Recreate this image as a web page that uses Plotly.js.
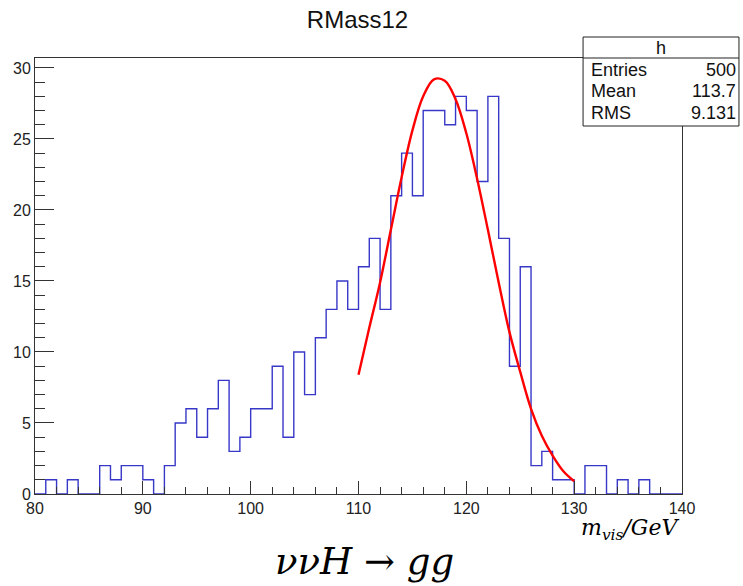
<!DOCTYPE html>
<html>
<head>
<meta charset="utf-8">
<script src="https://cdn.plot.ly/plotly-3.0.1.min.js"></script>
<style>html,body{margin:0;padding:0;background:#fff;}#chart{width:743px;height:586px;}</style>
</head>
<body>
<div id="chart"></div>
<script>
// ---- data ----
const histTitle = "RMass12";
const xMin = 80, xMax = 140, binWidth = 1;
// counts for bins [80,81), [81,82), ... [139,140)
const binCounts = [
  0, 1, 0, 1, 0, 0, 2, 1, 2, 2,
  1, 0, 2, 5, 6, 4, 6, 8, 3, 4,
  6, 6, 9, 4, 10, 7, 11, 13, 15, 13,
  16, 18, 13, 21, 24, 21, 27, 27, 26, 28,
  27, 22, 28, 18, 9, 16, 2, 3, 1, 1,
  0, 2, 2, 0, 1, 0, 1, 0, 0, 0
];
// fitted curve
const fitX = [110, 111, 112, 113, 114, 115, 116, 117, 118, 119, 120, 121, 122, 123, 124, 125, 126, 127, 128, 129, 130];
const fitY = [8.4, 11.7, 14.9, 18.6, 22.3, 25.6, 28.0, 29.2, 29.1, 27.8, 25.4, 22.2, 18.6, 14.9, 11.4, 8.6, 6.0, 4.1, 2.7, 1.6, 0.9];
const xTickVals = [80, 90, 100, 110, 120, 130, 140];
const yTickVals = [0, 5, 10, 15, 20, 25, 30];
const statsName = "h";
const statsLabels = ["Entries", "Mean", "RMS"];
const statsValues = ["500", "113.7", "9.131"];

// ---- build step outline from bins ----
const stepX = [], stepY = [];
for (let i = 0; i < binCounts.length; i++) {
  stepX.push(xMin + i * binWidth);
  stepY.push(binCounts[i]);
}
stepX.push(xMax); stepY.push(binCounts[binCounts.length - 1]);

// ---- geometry ----
const W = 743, H = 586;
const M = {l: 34.5, r: 61, t: 58, b: 92};
const PW = W - M.l - M.r, PH = H - M.t - M.b;
const px = x => (x - M.l) / PW;
const py = y => 1 - (y - M.t) / PH;

const sans = "Liberation Sans, Arial, Helvetica, sans-serif";
const serif = "DejaVu Serif, Liberation Serif, serif";

const traces = [
  {x: [xMin].concat(stepX), y: [0].concat(stepY), type: 'scatter', mode: 'lines',
   line: {shape: 'hv', color: '#3838c8', width: 1.4}, hoverinfo: 'skip'},
  {x: fitX, y: fitY, type: 'scatter', mode: 'lines',
   line: {shape: 'spline', color: '#ff0000', width: 2.4}, hoverinfo: 'skip'}
];

const boxL = 583, boxR = 739, boxT = 37, boxB = 126, headB = 58;
const shapes = [
  {type: 'rect', xref: 'paper', yref: 'paper', x0: px(boxL), x1: px(boxR), y0: py(boxB), y1: py(boxT),
   line: {color: '#222', width: 1}, fillcolor: '#fff', layer: 'above'},
  {type: 'line', xref: 'paper', yref: 'paper', x0: px(boxL), x1: px(boxR), y0: py(headB), y1: py(headB),
   line: {color: '#222', width: 1}, layer: 'above'}
];

const annotations = [
  {xref: 'paper', yref: 'paper', x: px((boxL + boxR) / 2), y: py(47.5), text: statsName, showarrow: false,
   xanchor: 'center', yanchor: 'middle', font: {family: sans, size: 18, color: '#111'}}
];
const rowY = [70, 91, 113];
for (let i = 0; i < statsLabels.length; i++) {
  annotations.push({xref: 'paper', yref: 'paper', x: px(589), y: py(rowY[i]), text: statsLabels[i], showarrow: false,
    xanchor: 'left', yanchor: 'middle', font: {family: sans, size: 18, color: '#111'}});
  annotations.push({xref: 'paper', yref: 'paper', x: px(738), y: py(rowY[i]), text: statsValues[i], showarrow: false,
    xanchor: 'right', yanchor: 'middle', font: {family: sans, size: 18, color: '#111'}});
}
annotations.push({xref: 'paper', yref: 'paper', x: px(630), y: py(529), showarrow: false,
  xanchor: 'center', yanchor: 'middle',
  text: '<i>m</i><sub><i>vis</i></sub><i>/GeV</i>', font: {family: serif, size: 22, color: '#000'}});
annotations.push({xref: 'paper', yref: 'paper', x: px(364), y: py(561), showarrow: false,
  xanchor: 'center', yanchor: 'middle',
  text: '<i>ννH</i> → <i>gg</i>', font: {family: serif, size: 37, color: '#000'}});

const layout = {
  width: W, height: H,
  margin: M,
  paper_bgcolor: '#fff', plot_bgcolor: '#fff',
  showlegend: false,
  title: {text: histTitle, x: 357.5 / W, xanchor: 'center', y: 1 - 20 / H, yanchor: 'middle',
          font: {family: sans, size: 24, color: '#111'}},
  xaxis: {range: [xMin, xMax], tickvals: xTickVals, ticks: 'inside', ticklen: 13, tickwidth: 1, tickcolor: '#333',
          showgrid: false, zeroline: false, showline: true, linecolor: '#333', linewidth: 1, mirror: true,
          tickfont: {family: sans, size: 16, color: '#222'},
          minor: {dtick: 2, ticks: 'inside', ticklen: 7, tickcolor: '#333', showgrid: false}},
  yaxis: {range: [0, 30.7], tickvals: yTickVals, ticks: 'inside', ticklen: 19, tickwidth: 1, tickcolor: '#333',
          showgrid: false, zeroline: false, showline: true, linecolor: '#333', linewidth: 1, mirror: true,
          tickfont: {family: sans, size: 16, color: '#222'},
          minor: {dtick: 1, ticks: 'inside', ticklen: 10, tickcolor: '#333', showgrid: false}},
  shapes: shapes,
  annotations: annotations
};

Plotly.newPlot('chart', traces, layout, {staticPlot: true, displayModeBar: false});
</script>
</body>
</html>
